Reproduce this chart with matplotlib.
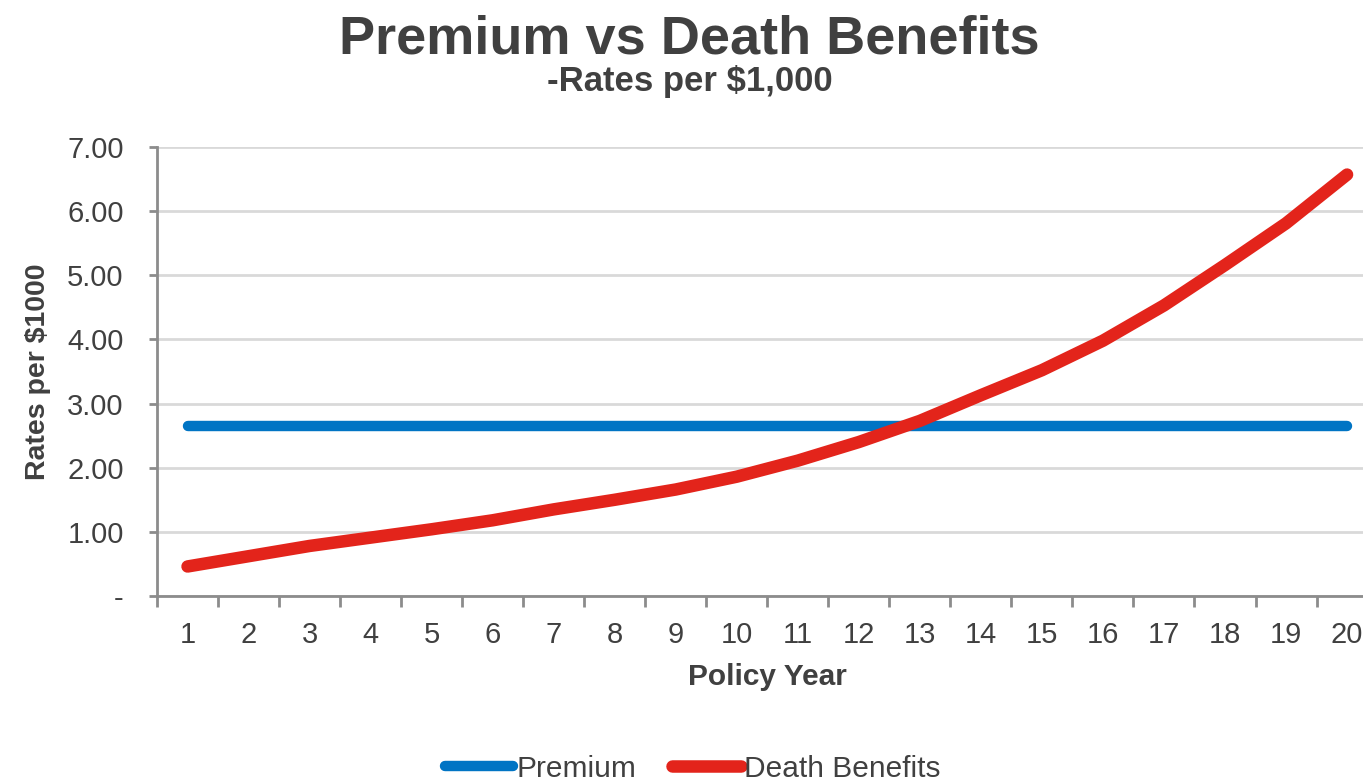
"""Premium vs Death Benefits: rates per $1,000 by policy year."""

import matplotlib.pyplot as plt

plt.rcParams["font.family"] = ["Liberation Sans", "DejaVu Sans"]

YEARS = list(range(1, 21))
PREMIUM = [2.65] * 20
DEATH_BENEFITS = [0.46, 0.62, 0.78, 0.91, 1.04, 1.18, 1.35, 1.50, 1.66, 1.86,
                  2.11, 2.40, 2.73, 3.13, 3.52, 3.98, 4.53, 5.16, 5.81, 6.57]
Y_TICKS = [0, 1, 2, 3, 4, 5, 6, 7]
Y_LABELS = ["-", "1.00", "2.00", "3.00", "4.00", "5.00", "6.00", "7.00"]

TEXT = "#404040"
AXIS = "#8c8c8c"
GRID = "#d9d9d9"
BLUE = "#0074C4"
RED = "#E3241B"

fig = plt.figure(figsize=(13.63, 7.81), dpi=100)
ax = fig.add_axes([0.1152, 0.2369, 0.8955, 0.5749])

ax.plot(YEARS, PREMIUM, color=BLUE, linewidth=7.5, solid_capstyle="round",
        label="Premium")
ax.plot(YEARS, DEATH_BENEFITS, color=RED, linewidth=9, solid_capstyle="round",
        solid_joinstyle="round", label="Death Benefits")

ax.set_xlim(0.5, 20.5)
ax.set_ylim(0, 7)
ax.set_xticks(YEARS)
ax.set_xticklabels([str(y) for y in YEARS])
ax.set_xticks([y + 0.5 for y in range(0, 20)], minor=True)
ax.tick_params(axis="x", which="major", length=0, pad=18, labelsize=21,
               labelcolor=TEXT)
ax.tick_params(axis="x", which="minor", length=8, width=2, color=AXIS,
               direction="out")
ax.set_yticks(Y_TICKS)
ax.set_yticklabels(Y_LABELS)
ax.tick_params(axis="y", length=6, width=2, color=AXIS, pad=18, labelsize=21,
               labelcolor=TEXT)

ax.grid(axis="y", color=GRID, linewidth=2)
ax.set_axisbelow(True)
for side in ("top", "right"):
    ax.spines[side].set_visible(False)
for side in ("left", "bottom"):
    ax.spines[side].set_color(AXIS)
    ax.spines[side].set_linewidth(2)

ax.set_xlabel("Policy Year", fontsize=21.5, fontweight="bold", color=TEXT,
              labelpad=10)
ax.set_ylabel("Rates per $1000", fontsize=20.5, fontweight="bold", color=TEXT,
              labelpad=12)

fig.text(0.506, 0.931, "Premium vs Death Benefits", ha="center", va="baseline",
         fontsize=39, fontweight="bold", color=TEXT)
fig.text(0.506, 0.884, "-Rates per $1,000", ha="center", va="baseline",
         fontsize=25, fontweight="bold", color=TEXT)

fig.legend(loc="center", bbox_to_anchor=(0.508, 0.016), ncol=2, frameon=False,
           fontsize=21.5, handlelength=2.3, handletextpad=0.1, columnspacing=1.2,
           labelcolor=TEXT)

fig.savefig("out.png", dpi=100)
